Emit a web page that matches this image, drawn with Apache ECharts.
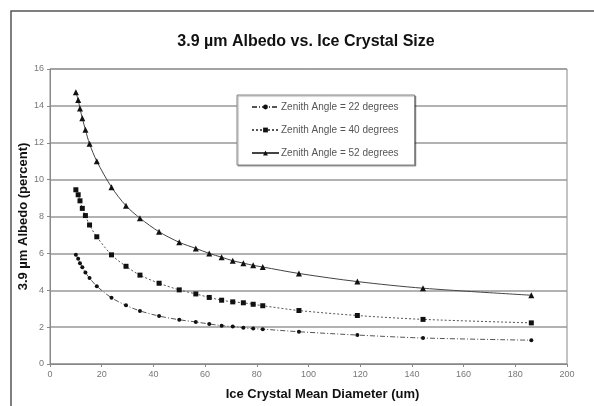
<!DOCTYPE html>
<html>
<head>
<meta charset="utf-8">
<script src="https://cdn.jsdelivr.net/npm/echarts@6/dist/echarts.min.js"></script>
<style>html,body{margin:0;padding:0;background:#fff}#c{width:594px;height:406px}</style>
</head>
<body>
<div id="c"></div>
<script>
var diameters = [10, 10.9, 11.6, 12.5, 13.7, 15.3, 18.1, 23.8, 29.4, 34.8, 42.2, 50, 56.4, 61.6, 66.4, 70.7, 74.8, 78.6, 82.3, 96.3, 118.9, 144.3, 186.2];
var albedo22 = [5.92, 5.71, 5.47, 5.25, 4.96, 4.66, 4.22, 3.59, 3.18, 2.88, 2.60, 2.40, 2.28, 2.17, 2.08, 2.03, 1.96, 1.92, 1.89, 1.75, 1.57, 1.41, 1.29];
var albedo40 = [9.45, 9.18, 8.85, 8.44, 8.05, 7.54, 6.90, 5.92, 5.30, 4.82, 4.38, 4.02, 3.80, 3.61, 3.46, 3.37, 3.32, 3.24, 3.16, 2.90, 2.63, 2.42, 2.23];
var albedo52 = [14.74, 14.32, 13.86, 13.33, 12.70, 11.94, 11.00, 9.59, 8.58, 7.91, 7.17, 6.60, 6.27, 6.00, 5.79, 5.60, 5.47, 5.35, 5.26, 4.91, 4.47, 4.11, 3.73];
var seriesNames = ['Zenith Angle = 22 degrees', 'Zenith Angle = 40 degrees', 'Zenith Angle = 52 degrees'];
var yTicks = [0, 2, 4, 6, 8, 10, 12, 14, 16];
var xTicks = [0, 20, 40, 60, 80, 100, 120, 140, 160, 180, 200];

function pairs(xs, ys) { return xs.map(function (x, i) { return [x, ys[i]]; }); }

var chart = echarts.init(document.getElementById('c'), null, {renderer: 'canvas'});
var font = 'Liberation Sans, Arial, sans-serif';
chart.setOption({
  animation: false,
  backgroundColor: '#fff',
  textStyle: {fontFamily: font},
  title: {
    text: '3.9 \u00b5m Albedo vs. Ice Crystal Size',
    left: 301, top: 29, textAlign: 'center',
    textStyle: {fontSize: 16, fontWeight: 'bold', color: '#111', fontFamily: font}
  },
  graphic: [{
    type: 'rect', shape: {x: 11, y: 11, width: 700, height: 500},
    style: {fill: 'none', stroke: '#555', lineWidth: 1.5}, silent: true
  }],
  legend: {
    orient: 'vertical', left: 237, top: 95,
    data: seriesNames,
    itemWidth: 27, itemHeight: 6, itemGap: 13,
    padding: [7, 16, 7, 14],
    backgroundColor: '#fff', borderColor: '#888', borderWidth: 1,
    shadowColor: 'rgba(0,0,0,0.35)', shadowOffsetX: 1, shadowOffsetY: 1, shadowBlur: 1,
    textStyle: {fontSize: 10, color: '#555', fontFamily: 'Liberation Sans Narrow, Liberation Sans, Arial, sans-serif', padding: [0, 0, 0, -3]}
  },
  grid: {left: 50, right: 27, top: 69, bottom: 35, show: true, borderColor: '#888', borderWidth: 1},
  xAxis: {
    type: 'value', min: 0, max: 200, interval: 20,
    name: 'Ice Crystal Mean Diameter (um)', nameLocation: 'middle', nameGap: 24,
    nameMoveOverlap: false,
    nameTextStyle: {fontSize: 13, fontWeight: 'bold', color: '#111', verticalAlign: 'top', padding: [0, 0, 0, 28]},
    axisLine: {lineStyle: {color: '#888', width: 1}},
    axisTick: {show: true, length: 3, lineStyle: {color: '#888'}},
    axisLabel: {fontSize: 9, color: '#777', margin: 6},
    splitLine: {show: false}
  },
  yAxis: {
    type: 'value', min: 0, max: 16, interval: 2,
    name: '3.9 \u00b5m Albedo (percent)', nameLocation: 'middle', nameGap: 20,
    nameMoveOverlap: false,
    nameTextStyle: {fontSize: 13, fontWeight: 'bold', color: '#111'},
    axisLine: {show: true, lineStyle: {color: '#888', width: 1}},
    axisTick: {show: true, length: 3, lineStyle: {color: '#888'}},
    axisLabel: {fontSize: 9, color: '#777', margin: 6},
    splitLine: {show: true, lineStyle: {color: '#999', width: 1.5}}
  },
  series: [
    {
      name: seriesNames[0], type: 'line', smooth: 0.3, data: pairs(diameters, albedo22),
      symbol: 'circle', symbolSize: 4,
      lineStyle: {color: '#555', width: 1, type: [5, 2, 1, 2]},
      itemStyle: {color: '#111'}
    },
    {
      name: seriesNames[1], type: 'line', smooth: 0.3, data: pairs(diameters, albedo40),
      symbol: 'rect', symbolSize: 5,
      lineStyle: {color: '#555', width: 1, type: [2, 2]},
      itemStyle: {color: '#111'}
    },
    {
      name: seriesNames[2], type: 'line', smooth: 0.3, data: pairs(diameters, albedo52),
      symbol: 'triangle', symbolSize: 6,
      lineStyle: {color: '#444', width: 1, type: 'solid'},
      itemStyle: {color: '#111'}
    }
  ]
});
</script>
</body>
</html>
